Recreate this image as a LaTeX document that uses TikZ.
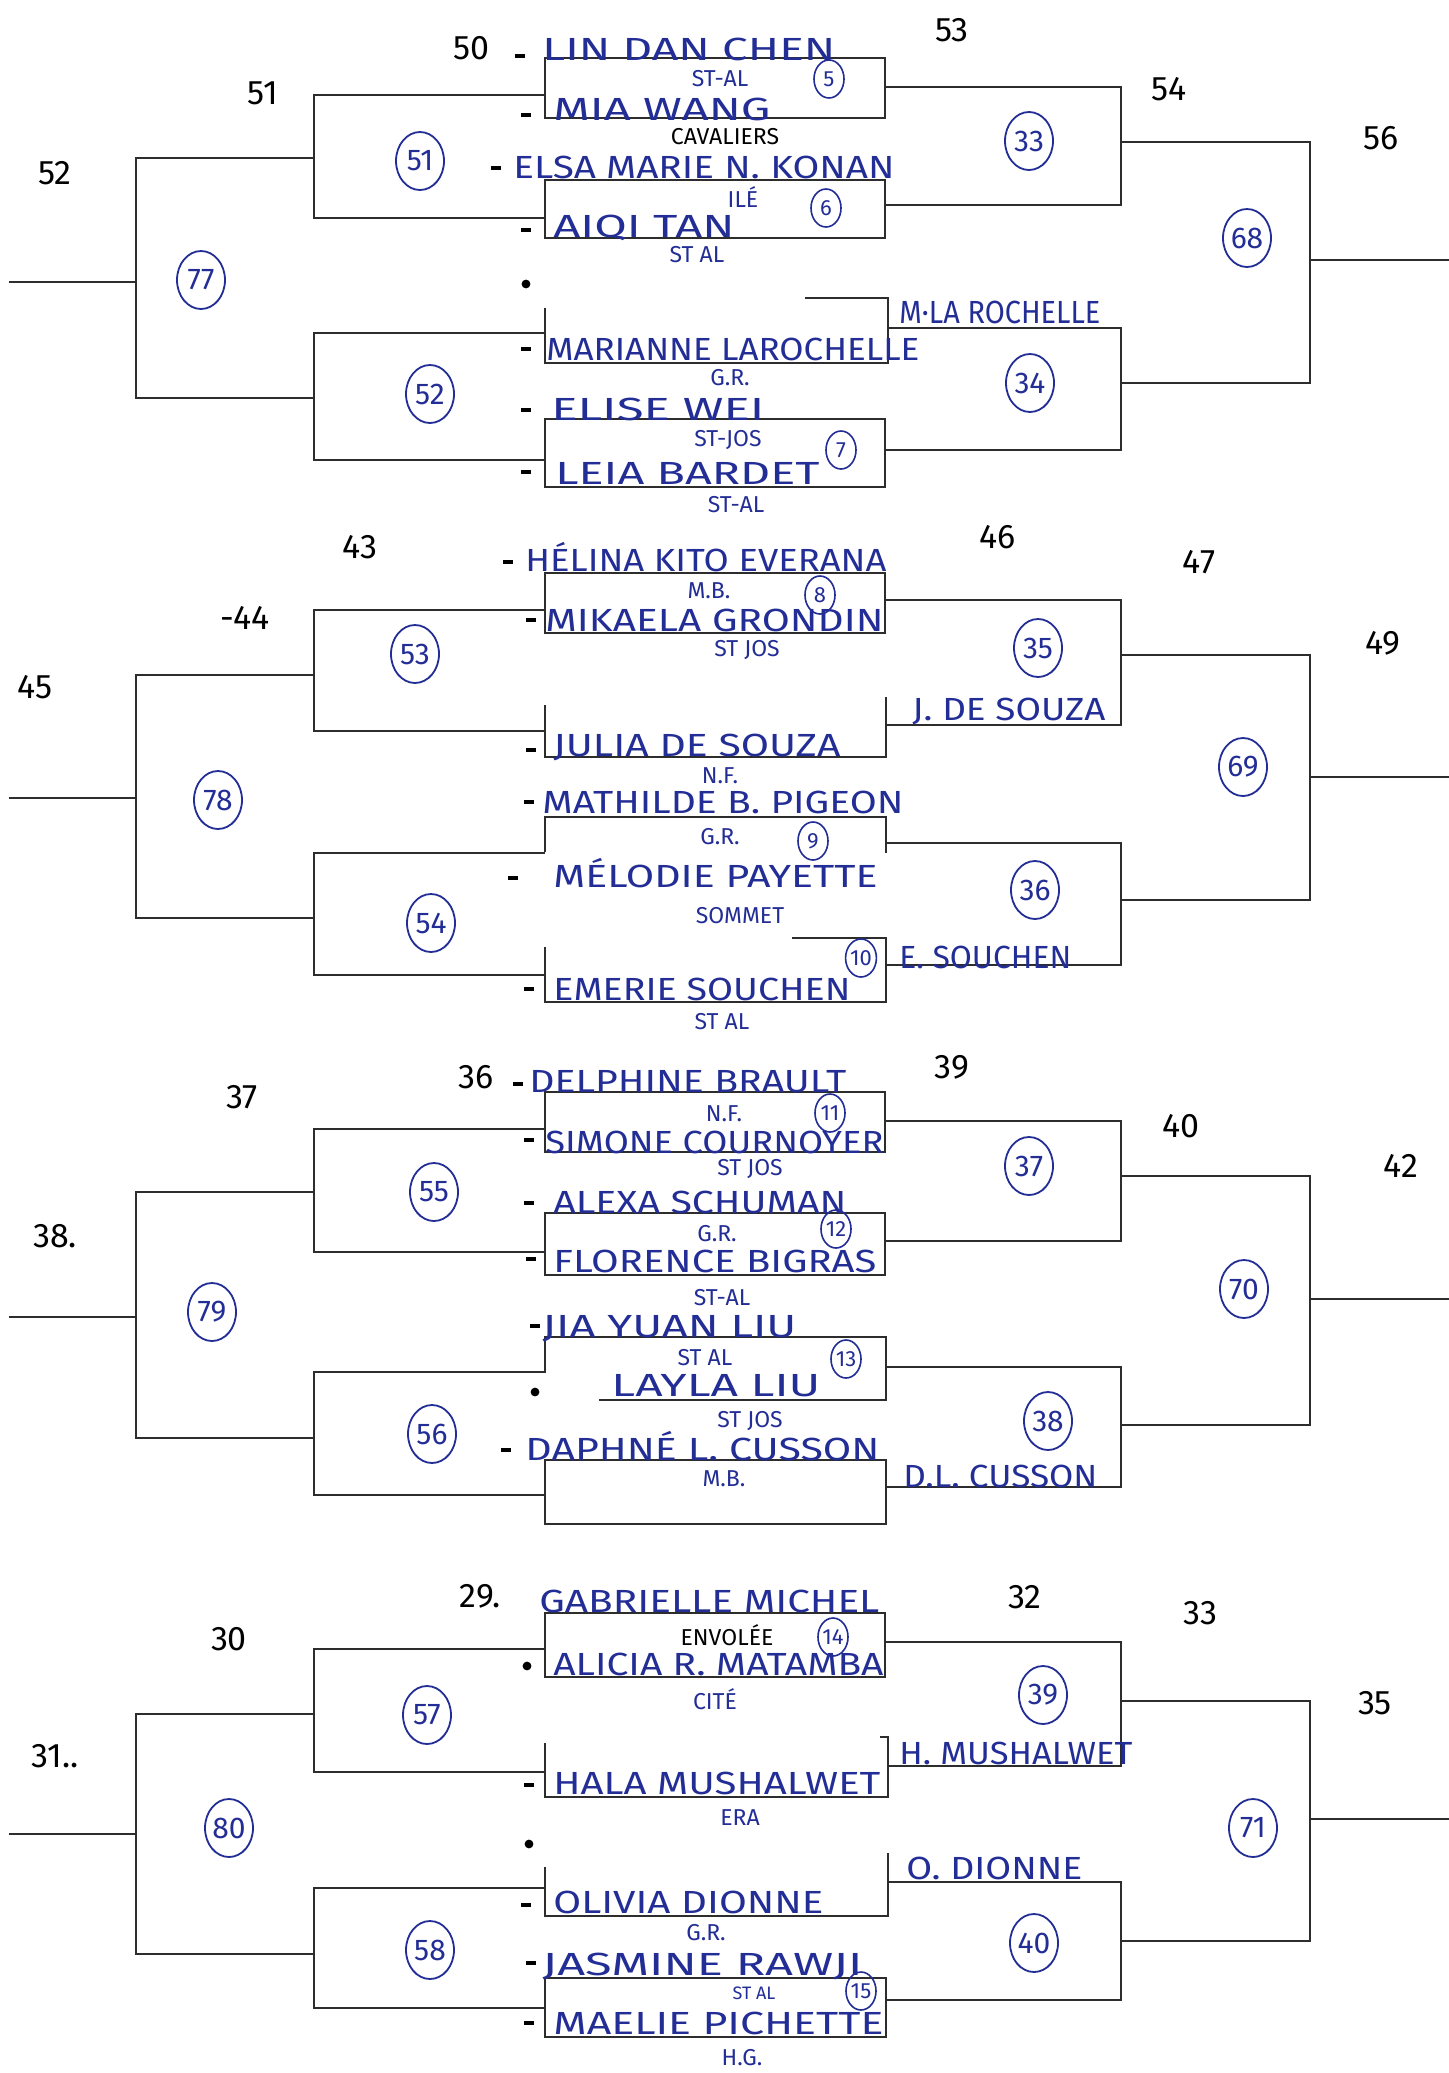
\documentclass[tikz,border=0pt]{standalone}
\usepackage{graphicx}
\usepackage{fontspec}
\setmainfont{Fira Sans}
\usetikzlibrary{shapes.geometric}
\definecolor{ink}{RGB}{35,45,150}
\definecolor{pen}{RGB}{45,45,45}
\newcommand\fitw[2]{\resizebox{#1}{\height}{#2}}
\begin{document}
\begin{tikzpicture}[x=0.5pt,y=-0.5pt,
  brk/.style={line width=1.3pt, draw=pen},
  pname/.style={anchor=base west, inner sep=0pt, text=ink, font=\fontsize{16}{17}\selectfont},
  school/.style={text=ink, inner sep=0pt, font=\fontsize{11.5}{12}\selectfont},
  blk/.style={text=black, inner sep=0pt, font=\fontsize{17}{18}\selectfont},
  rnd/.style={ellipse, draw=ink, line width=0.9pt, text=ink, minimum width=24pt, minimum height=29pt, inner sep=0pt, font=\fontsize{15}{16}\selectfont},
  seed/.style={ellipse, draw=ink, line width=0.8pt, text=ink, minimum width=15pt, minimum height=19pt, inner sep=0pt, font=\fontsize{11}{12}\selectfont},
  tick/.style={line width=1.6pt, draw=black},
]
\useasboundingbox[fill=white] (0,0) rectangle (1449,2073);

% ================= SECTION 1 =================
\draw[brk] (545,58) rectangle (885,118);
\draw[brk] (545,180) rectangle (885,238);
\draw[brk] (805,298) -- (888,298) -- (888,363) -- (545,363) -- (545,308);
\draw[brk] (545,419) rectangle (885,487);
\draw[brk] (545,95) -- (314,95) -- (314,218) -- (545,218);
\draw[brk] (545,333) -- (314,333) -- (314,460) -- (545,460);
\draw[brk] (885,87) -- (1121,87) -- (1121,205) -- (885,205);
\draw[brk] (888,328) -- (1121,328) -- (1121,450) -- (885,450);
\draw[brk] (314,158) -- (136,158) -- (136,398) -- (314,398);
\draw[brk] (9,282) -- (136,282);
\draw[brk] (1121,142) -- (1310,142) -- (1310,383) -- (1121,383);
\draw[brk] (1310,260) -- (1449,260);

% ================= SECTION 2 =================
\draw[brk] (545,573) rectangle (885,633);
\draw[brk] (545,705) -- (545,757) -- (886,757) -- (886,697);
\draw[brk] (545,852) -- (545,817) -- (886,817) -- (886,853);
\draw[brk] (792,938) -- (886,938) -- (886,1002) -- (545,1002) -- (545,947);
\draw[brk] (545,610) -- (314,610) -- (314,731) -- (545,731);
\draw[brk] (885,600) -- (1121,600) -- (1121,725) -- (886,725);
\draw[brk] (545,853) -- (314,853) -- (314,975) -- (545,975);
\draw[brk] (886,843) -- (1121,843) -- (1121,965) -- (886,965);
\draw[brk] (314,675) -- (136,675) -- (136,918) -- (314,918);
\draw[brk] (9,798) -- (136,798);
\draw[brk] (1121,655) -- (1310,655) -- (1310,900) -- (1121,900);
\draw[brk] (1310,777) -- (1449,777);

% ================= SECTION 3 =================
\draw[brk] (545,1092) rectangle (885,1152);
\draw[brk] (545,1213) rectangle (885,1275);
\draw[brk] (545,1373) -- (545,1337) -- (886,1337) -- (886,1400) -- (599,1400);
\draw[brk] (545,1460) rectangle (886,1524);
\draw[brk] (545,1129) -- (314,1129) -- (314,1252) -- (545,1252);
\draw[brk] (885,1121) -- (1121,1121) -- (1121,1241) -- (885,1241);
\draw[brk] (545,1372) -- (314,1372) -- (314,1495) -- (545,1495);
\draw[brk] (886,1367) -- (1121,1367) -- (1121,1487) -- (886,1487);
\draw[brk] (314,1192) -- (136,1192) -- (136,1438) -- (314,1438);
\draw[brk] (9,1317) -- (136,1317);
\draw[brk] (1121,1176) -- (1310,1176) -- (1310,1425) -- (1121,1425);
\draw[brk] (1310,1299) -- (1449,1299);

% ================= SECTION 4 =================
\draw[brk] (545,1613) rectangle (885,1677);
\draw[brk] (880,1737) -- (888,1737) -- (888,1797) -- (545,1797) -- (545,1743);
\draw[brk] (888,1853) -- (888,1916) -- (545,1916) -- (545,1867);
\draw[brk] (545,1978) rectangle (886,2037);
\draw[brk] (545,1649) -- (314,1649) -- (314,1772) -- (545,1772);
\draw[brk] (885,1642) -- (1121,1642) -- (1121,1766) -- (888,1766);
\draw[brk] (545,1888) -- (314,1888) -- (314,2008) -- (545,2008);
\draw[brk] (888,1882) -- (1121,1882) -- (1121,2000) -- (886,2000);
\draw[brk] (314,1714) -- (136,1714) -- (136,1954) -- (314,1954);
\draw[brk] (9,1834) -- (136,1834);
\draw[brk] (1121,1701) -- (1310,1701) -- (1310,1941) -- (1121,1941);
\draw[brk] (1310,1819) -- (1449,1819);

% ---------- small dashes before names ----------
\foreach \x/\y in {520/56,526/115,496/168,526/230,526/349,526/410,526/472,
  508/562,531/620,531/750,529/802,513/878,529/989,
  518/1084,529/1140,529/1203,531/1259,535/1326,506/1450,
  529/1785,526/1905,531/1963,529/2023}
  \draw[tick] (\x-5,\y) -- (\x+5,\y);
\foreach \x/\y in {526/284,535/1392,527/1666,529/1844}
  \fill (\x,\y) circle (2.2pt);

% ---------- names, section 1 ----------
\node[pname] (n1) at (542,60) {\fitw{146.5pt}{LIN DAN CHEN}};
\node[pname] (n2) at (553,120) {\fitw{108.5pt}{MIA WANG}};
\node[pname] (n3) at (513,178) {\fitw{190.5pt}{ELSA MARIE N. KONAN}};
\node[pname] (n4) at (553,237) {\fitw{90.5pt}{AIQI TAN}};
\node[pname] (n5) at (546,360) {\fitw{186.5pt}{MARIANNE LAROCHELLE}};
\node[pname] (n6) at (551,420) {\fitw{106.5pt}{ELISE WEI}};
\node[pname] (n7) at (555,484) {\fitw{132pt}{LEIA BARDET}};
\node[pname] (w1) at (899,323) {\fitw{100.5pt}{M·LA ROCHELLE}};

\node[school] (s1) at (720,79) {ST-AL};
\node[school, text=black] (s2) at (725,137) {CAVALIERS};
\node[school] (s3) at (743,197) {ILÉ};
\node[school] (s4) at (697,255) {ST AL};
\node[school] (s5) at (730,378) {G.R.};
\node[school] (s6) at (728,440) {ST-JOS};
\node[school] (s7) at (736,505) {ST-AL};

\node[seed] (c5) at (829,79) {5};
\node[seed] (c6) at (826,208) {6};
\node[seed] (c7) at (841,450) {7};
\node[rnd] (c51) at (420,161) {51};
\node[rnd] (c52) at (430,394) {52};
\node[rnd] (c77) at (201,280) {77};
\node[rnd] (c33) at (1029,141) {33};
\node[rnd] (c34) at (1030,383) {34};
\node[rnd] (c68) at (1247,238) {68};

\node[blk] (b50) at (471,48) {50};
\node[blk] (b51) at (263,93) {51};
\node[blk] (b52) at (55,173) {52};
\node[blk] (b53) at (952,30) {53};
\node[blk] (b54) at (1169,89) {54};
\node[blk] (b56) at (1381,138) {56};

% ---------- names, section 2 ----------
\node[pname] (n8) at (525,571) {\fitw{180.5pt}{HÉLINA KITO EVERANA}};
\node[pname] (n9) at (545,631) {\fitw{169pt}{MIKAELA GRONDIN}};
\node[pname] (n10) at (553,756) {\fitw{143.5pt}{JULIA DE SOUZA}};
\node[pname] (n11) at (542,813) {\fitw{180.5pt}{MATHILDE B. PIGEON}};
\node[pname] (n12) at (553,887) {\fitw{162pt}{MÉLODIE PAYETTE}};
\node[pname] (n13) at (553,1000) {\fitw{148.5pt}{EMERIE SOUCHEN}};
\node[pname] (w2) at (912,720) {\fitw{96.5pt}{J. DE SOUZA}};
\node[pname] (w3) at (899,968) {\fitw{86pt}{E. SOUCHEN}};

\node[school] (s8) at (709,591) {M.B.};
\node[school] (s9) at (747,650) {ST JOS};
\node[school] (s10) at (720,776) {N.F.};
\node[school] (s11) at (720,837) {G.R.};
\node[school] (s12) at (740,916) {SOMMET};
\node[school] (s13) at (722,1022) {ST AL};

\node[seed] (c8) at (820,595) {8};
\node[seed] (c9) at (813,841) {9};
\node[seed] (c10) at (861,958) {10};
\node[rnd] (c53) at (415,654) {53};
\node[rnd] (c54) at (431,923) {54};
\node[rnd] (c78) at (218,800) {78};
\node[rnd] (c35) at (1038,648) {35};
\node[rnd] (c36) at (1035,890) {36};
\node[rnd] (c69) at (1243,767) {69};

\node[blk] (b43) at (360,547) {43};
\node[blk] (b44) at (245,618) {-44};
\node[blk] (b45) at (35,687) {45};
\node[blk] (b46) at (998,537) {46};
\node[blk] (b47) at (1199,562) {47};
\node[blk] (b49) at (1383,643) {49};

% ---------- names, section 3 ----------
\node[pname] (n14) at (529,1092) {\fitw{158.5pt}{DELPHINE BRAULT}};
\node[pname] (n15) at (545,1153) {\fitw{169pt}{SIMONE COURNOYER}};
\node[pname] (n16) at (553,1213) {\fitw{146.5pt}{ALEXA SCHUMAN}};
\node[pname] (n17) at (553,1272) {\fitw{161.5pt}{FLORENCE BIGRAS}};
\node[pname] (n18) at (542,1337) {\fitw{127pt}{JIA YUAN LIU}};
\node[pname] (n19) at (611,1396) {\fitw{104.5pt}{LAYLA LIU}};
\node[pname] (n20) at (525,1460) {\fitw{177pt}{DAPHNÉ L. CUSSON}};
\node[pname] (w4) at (903,1487) {\fitw{97pt}{D.L. CUSSON}};

\node[school] (s14) at (724,1114) {N.F.};
\node[school] (s15) at (750,1169) {ST JOS};
\node[school] (s16) at (717,1234) {G.R.};
\node[school] (s17) at (722,1298) {ST-AL};
\node[school] (s18) at (705,1358) {ST AL};
\node[school] (s19) at (750,1421) {ST JOS};
\node[school] (s20) at (724,1479) {M.B.};

\node[seed] (c11) at (830,1113) {11};
\node[seed] (c12) at (836,1229) {12};
\node[seed] (c13) at (846,1359) {13};
\node[rnd] (c55) at (434,1192) {55};
\node[rnd] (c56) at (432,1434) {56};
\node[rnd] (c79) at (212,1312) {79};
\node[rnd] (c37) at (1029,1166) {37};
\node[rnd] (c38) at (1048,1421) {38};
\node[rnd] (c70) at (1244,1289) {70};

\node[blk] (b36) at (476,1077) {36};
\node[blk] (b37) at (242,1097) {37};
\node[blk] (b38) at (55,1236) {38.};
\node[blk] (b39) at (952,1067) {39};
\node[blk] (b40) at (1181,1126) {40};
\node[blk] (b42) at (1401,1166) {42};

% ---------- names, section 4 ----------
\node[pname] (n21) at (539,1612) {\fitw{170pt}{GABRIELLE MICHEL}};
\node[pname] (n22) at (553,1675) {\fitw{165pt}{ALICIA R. MATAMBA}};
\node[pname] (n23) at (553,1794) {\fitw{163.5pt}{HALA MUSHALWET}};
\node[pname] (n24) at (553,1913) {\fitw{135pt}{OLIVIA DIONNE}};
\node[pname] (n25) at (542,1975) {\fitw{160pt}{JASMINE RAWJI}};
\node[pname] (n26) at (553,2034) {\fitw{165pt}{MAELIE PICHETTE}};
\node[pname] (w5) at (899,1764) {\fitw{116.5pt}{H. MUSHALWET}};
\node[pname] (w6) at (906,1879) {\fitw{88pt}{O. DIONNE}};

\node[school, text=black] (s21) at (727,1635) {ENVOLÉE};
\node[school] (s22) at (715,1699) {CITÉ};
\node[school] (s23) at (740,1818) {ERA};
\node[school] (s24) at (706,1933) {G.R.};
\node[school, font=\fontsize{9}{10}\selectfont] (s25) at (754,1993) {ST AL};
\node[school] (s26) at (742,2058) {H.G.};

\node[seed] (c14) at (833,1637) {14};
\node[seed] (c15) at (861,1991) {15};
\node[rnd] (c57) at (427,1715) {57};
\node[rnd] (c58) at (430,1950) {58};
\node[rnd] (c80) at (229,1828) {80};
\node[rnd] (c39) at (1043,1695) {39};
\node[rnd] (c40) at (1034,1943) {40};
\node[rnd] (c71) at (1253,1828) {71};

\node[blk] (b29) at (480,1596) {29.};
\node[blk] (b30) at (229,1639) {30};
\node[blk] (b31) at (55,1756) {31..};
\node[blk] (b32) at (1025,1597) {32};
\node[blk] (b33) at (1200,1613) {33};
\node[blk] (b35) at (1375,1703) {35};
\end{tikzpicture}
\end{document}
